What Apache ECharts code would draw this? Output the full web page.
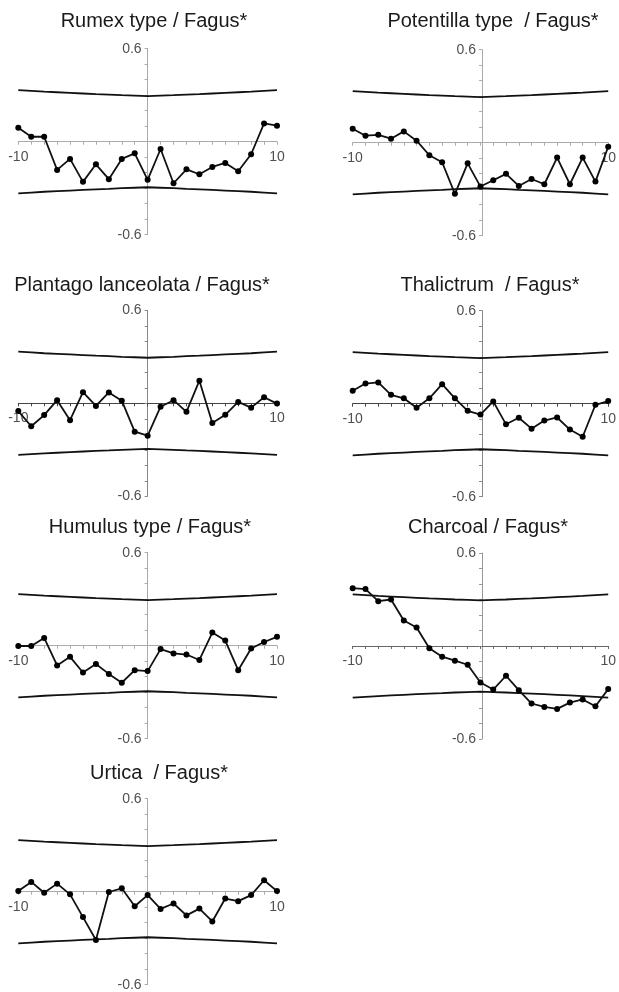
<!DOCTYPE html>
<html>
<head>
<meta charset="utf-8">
<script src="https://cdn.jsdelivr.net/npm/echarts@6/dist/echarts.min.js"></script>
<style>
  html, body { margin: 0; padding: 0; background: #fff; }
  #chart { width: 619px; height: 992px; }
</style>
</head>
<body>
<div id="chart"></div>
<script>
// Lags (years) for the cross-correlation functions
const lags = [-10, -9, -8, -7, -6, -5, -4, -3, -2, -1, 0, 1, 2, 3, 4, 5, 6, 7, 8, 9, 10];

// Confidence limits for the cross-correlation at each lag
const upperLimit = [0.333, 0.328, 0.323, 0.319, 0.315, 0.311, 0.307, 0.304, 0.300, 0.297, 0.294,
                    0.297, 0.300, 0.304, 0.307, 0.311, 0.315, 0.319, 0.323, 0.328, 0.333];
const lowerLimit = [-0.333, -0.328, -0.323, -0.319, -0.315, -0.311, -0.307, -0.304, -0.300, -0.297, -0.294,
                    -0.297, -0.300, -0.304, -0.307, -0.311, -0.315, -0.319, -0.323, -0.328, -0.333];

// Cross-correlation coefficients against Fagus
const rumex       = [0.09, 0.032, 0.032, -0.182, -0.111, -0.259, -0.146, -0.242, -0.111, -0.075, -0.246,
                     -0.047, -0.268, -0.178, -0.21, -0.163, -0.137, -0.191, -0.081, 0.118, 0.103];
const potentilla  = [0.09, 0.045, 0.051, 0.026, 0.073, 0.013, -0.081, -0.126, -0.33, -0.133, -0.283,
                     -0.242, -0.201, -0.279, -0.234, -0.268, -0.096, -0.268, -0.096, -0.251, -0.026];
const plantago    = [-0.05, -0.148, -0.076, 0.02, -0.109, 0.072, -0.017, 0.07, 0.017, -0.183, -0.209,
                     -0.022, 0.02, -0.055, 0.146, -0.127, -0.074, 0.009, -0.028, 0.039, -0.002];
const thalictrum  = [0.083, 0.13, 0.137, 0.057, 0.035, -0.026, 0.035, 0.126, 0.035, -0.046, -0.07,
                     0.015, -0.133, -0.091, -0.161, -0.109, -0.089, -0.167, -0.213, -0.007, 0.017];
const humulus     = [-0.002, -0.002, 0.05, -0.127, -0.072, -0.173, -0.118, -0.182, -0.239, -0.158, -0.164,
                     -0.022, -0.05, -0.057, -0.092, 0.085, 0.033, -0.158, -0.018, 0.024, 0.057];
const charcoal    = [0.373, 0.367, 0.289, 0.3, 0.164, 0.119, -0.015, -0.069, -0.095, -0.121, -0.235,
                     -0.281, -0.192, -0.285, -0.371, -0.393, -0.406, -0.365, -0.345, -0.389, -0.278];
const urtica      = [0.004, 0.063, -0.007, 0.052, -0.017, -0.164, -0.312, -0.002, 0.022, -0.094, -0.022,
                     -0.111, -0.076, -0.153, -0.109, -0.192, -0.044, -0.061, -0.022, 0.074, 0.004];

// Panel titles
const titles = [
  'Rumex type / Fagus*',
  'Potentilla type  / Fagus*',
  'Plantago lanceolata / Fagus*',
  'Thalictrum  / Fagus*',
  'Humulus type / Fagus*',
  'Charcoal / Fagus*',
  'Urtica  / Fagus*'
];
const panelValues = [rumex, potentilla, plantago, thalictrum, humulus, charcoal, urtica];

// Axis ranges (symmetric about zero) and the only tick values that carry a label
const xRange = [-10, 10];
const yRange = [-0.6, 0.6];
const xTickLabels = [-10, 10];
const yTickLabels = [-0.6, 0.6];

// Layout of each panel: plot box (left, top, width, height), title centre, axis colours
const LEFT_COL = 18.3, RIGHT_COL = 352.7, PLOT_W = 258.7, PLOT_H = 186;
const panels = [
  { left: LEFT_COL,  top: 48.7,  tx: 154, ty: 21.7, xCol: '#aaa', yCol: '#aaa' },
  { left: RIGHT_COL, top: 49.7,  tx: 493, ty: 21.7, xCol: '#aaa', yCol: '#aaa' },
  { left: LEFT_COL,  top: 310.3, tx: 142, ty: 285,  xCol: '#444', yCol: '#888' },
  { left: RIGHT_COL, top: 310.7, tx: 490, ty: 285,  xCol: '#444', yCol: '#888' },
  { left: LEFT_COL,  top: 552.7, tx: 150, ty: 527,  xCol: '#aaa', yCol: '#aaa' },
  { left: RIGHT_COL, top: 553,   tx: 488, ty: 527,  xCol: '#666', yCol: '#999' },
  { left: LEFT_COL,  top: 798.7, tx: 159, ty: 773,  xCol: '#aaa', yCol: '#aaa' }
];

const FONT = '"Liberation Sans", Arial, sans-serif';
const near = (a, b) => Math.abs(a - b) < 1e-6;

const grid = [], xAxis = [], yAxis = [], series = [], graphic = [];
const pairs = vals => lags.map((k, i) => [k, vals[i]]);

panels.forEach((p, i) => {
  grid.push({ left: p.left, top: p.top, width: PLOT_W, height: PLOT_H, containLabel: false });
  // The ranges are symmetric, so the zero lines sit in the middle of the plot box:
  // the axes are shifted inward by half the box so that they cross at the origin.
  xAxis.push({
    type: 'value', gridIndex: i, min: xRange[0], max: xRange[1], interval: 1,
    position: 'bottom', offset: -PLOT_H / 2,
    axisLine: { onZero: false, lineStyle: { color: p.xCol, width: 1 } },
    axisTick: { show: true, length: 3, lineStyle: { color: p.xCol } },
    splitLine: { show: false },
    axisLabel: {
      show: true, margin: 8, color: '#505050', fontSize: 14, fontFamily: FONT,
      formatter: v => xTickLabels.some(t => near(t, v)) ? String(v) : ''
    }
  });
  yAxis.push({
    type: 'value', gridIndex: i, min: yRange[0], max: yRange[1], interval: 0.1,
    position: 'left', offset: -PLOT_W / 2,
    axisLine: { onZero: false, lineStyle: { color: p.yCol, width: 1 } },
    axisTick: { show: true, length: 3, lineStyle: { color: p.yCol } },
    splitLine: { show: false },
    axisLabel: {
      show: true, margin: 6, color: '#505050', fontSize: 14, fontFamily: FONT,
      formatter: v => {
        const t = yTickLabels.find(t => near(t, v));
        return t === undefined ? '' : t.toFixed(1);
      }
    }
  });
  const lineBase = { type: 'line', xAxisIndex: i, yAxisIndex: i, silent: true, animation: false };
  series.push(Object.assign({}, lineBase, {
    data: pairs(upperLimit), showSymbol: false, symbol: 'none',
    lineStyle: { color: '#111', width: 1.8 }
  }));
  series.push(Object.assign({}, lineBase, {
    data: pairs(lowerLimit), showSymbol: false, symbol: 'none',
    lineStyle: { color: '#111', width: 1.8 }
  }));
  series.push(Object.assign({}, lineBase, {
    data: pairs(panelValues[i]), symbol: 'circle', symbolSize: 6,
    itemStyle: { color: '#000' },
    lineStyle: { color: '#111', width: 1.8 }
  }));
  graphic.push({
    type: 'text', x: p.tx, y: p.ty, silent: true,
    style: {
      text: titles[i], fill: '#1a1a1a', font: '20px ' + FONT,
      textAlign: 'center', textVerticalAlign: 'middle'
    }
  });
});

const chart = echarts.init(document.getElementById('chart'), null, { renderer: 'canvas' });
chart.setOption({
  backgroundColor: '#fff',
  animation: false,
  grid, xAxis, yAxis, series, graphic
});
</script>
</body>
</html>
